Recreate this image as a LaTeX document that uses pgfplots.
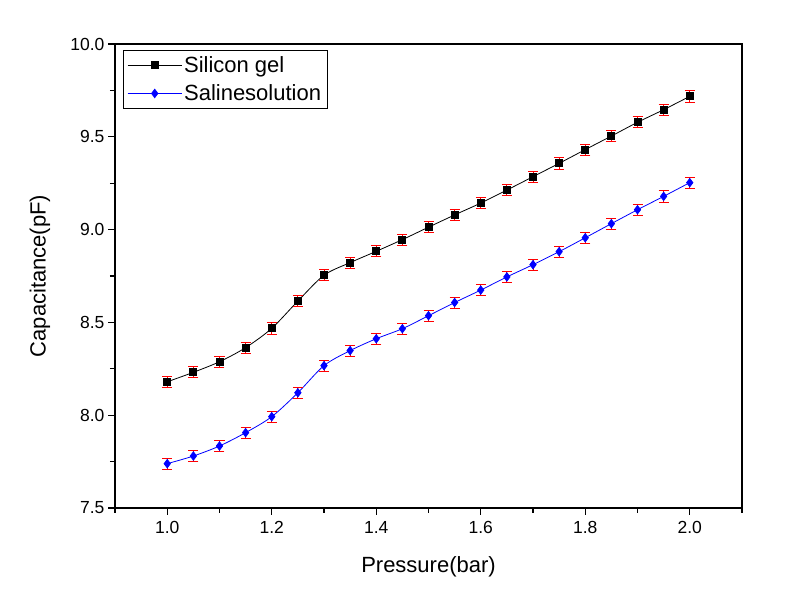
\documentclass[border=0pt]{standalone}
\usepackage{pgfplots}
\pgfplotsset{compat=1.18}
\usepackage{pgfplotstable}
\usepackage{fontspec}
\setmainfont{Liberation Sans}
\pgfplotstableread{
x y e
1.00 8.180 0.03
1.05 8.231 0.03
1.10 8.288 0.03
1.15 8.364 0.03
1.20 8.468 0.03
1.25 8.615 0.03
1.30 8.754 0.03
1.35 8.822 0.03
1.40 8.883 0.03
1.45 8.946 0.03
1.50 9.013 0.03
1.55 9.079 0.03
1.60 9.143 0.03
1.65 9.213 0.03
1.70 9.285 0.03
1.75 9.357 0.03
1.80 9.431 0.03
1.85 9.504 0.03
1.90 9.578 0.03
1.95 9.646 0.03
2.00 9.718 0.03
}\silicon
\pgfplotstableread{
x y e
1.00 7.739 0.03
1.05 7.780 0.03
1.10 7.834 0.03
1.15 7.906 0.03
1.20 7.992 0.03
1.25 8.121 0.03
1.30 8.267 0.03
1.35 8.348 0.03
1.40 8.412 0.03
1.45 8.466 0.03
1.50 8.536 0.03
1.55 8.607 0.03
1.60 8.674 0.03
1.65 8.745 0.03
1.70 8.811 0.03
1.75 8.881 0.03
1.80 8.956 0.03
1.85 9.032 0.03
1.90 9.107 0.03
1.95 9.179 0.03
2.00 9.253 0.03
}\saline
\begin{document}
\begin{tikzpicture}
\begin{axis}[name=ax, at={(0,0)}, anchor=south west,
  scale only axis, width=627pt, height=464pt,
  xmin=0.9, xmax=2.1, ymin=7.5, ymax=10,
  xtick={1.0,1.2,1.4,1.6,1.8,2.0},
  ytick={7.5,8.0,8.5,9.0,9.5,10.0},
  minor xtick={0.9,1.1,1.3,1.5,1.7,1.9,2.1},
  minor ytick={7.75,8.25,8.75,9.25,9.75},
  tick align=outside, tick pos=left,
  major tick length=7pt, minor tick length=5pt,
  axis line style={line width=1.6pt},
  every tick/.style={black, line width=1.2pt},
  /pgf/number format/assume math mode=true,
  /pgf/number format/.cd, fixed, fixed zerofill, precision=1, /pgfplots/.cd,
  ticklabel style={font=\fontsize{17.5}{17.5}\selectfont},
  xticklabel style={yshift=-3pt},
  xlabel={Pressure(bar)}, ylabel={Capacitance(pF)},
  label style={font=\fontsize{22}{22}\selectfont},
  xlabel style={at={(axis description cs:0.5,-0.127)}, anchor=center},
  ylabel style={at={(axis description cs:-0.1196,0.5)}, anchor=center, rotate=0},
  legend style={draw=black, line width=0.6pt, at={(0,1)}, anchor=north west,
    xshift=8pt, yshift=-6pt, font=\fontsize{22}{26}\selectfont,
    inner xsep=4pt, inner ysep=4pt, row sep=7pt,
    /tikz/every even column/.append style={column sep=4pt}},
  legend cell align=left,
  legend image code/.code={\draw[mark repeat=2,mark phase=2] plot coordinates {(0pt,0pt) (27pt,0pt) (54pt,0pt)};},
  clip=false,
]
\addplot[black, line width=0.8pt, smooth, mark=square*, mark size=3.5pt, mark options={solid, black},
  error bars/.cd, y dir=both, y explicit,
  error bar style={red, line width=0.8pt},
  error mark options={red, mark size=5pt, line width=0.8pt, rotate=90}]
  table[x=x, y=y, y error=e] {\silicon};
\addlegendentry{Silicon gel}
\addplot[blue, line width=0.8pt, smooth, mark=diamond*, mark size=4.2pt, mark options={solid, blue},
  error bars/.cd, y dir=both, y explicit,
  error bar style={red, line width=0.8pt},
  error mark options={red, mark size=5pt, line width=0.8pt, rotate=90}]
  table[x=x, y=y, y error=e] {\saline};
\addlegendentry{Salinesolution}
\end{axis}
\path (ax.south west) ++(-115pt,-93pt) rectangle ++(795pt,601pt);
\end{tikzpicture}
\end{document}
